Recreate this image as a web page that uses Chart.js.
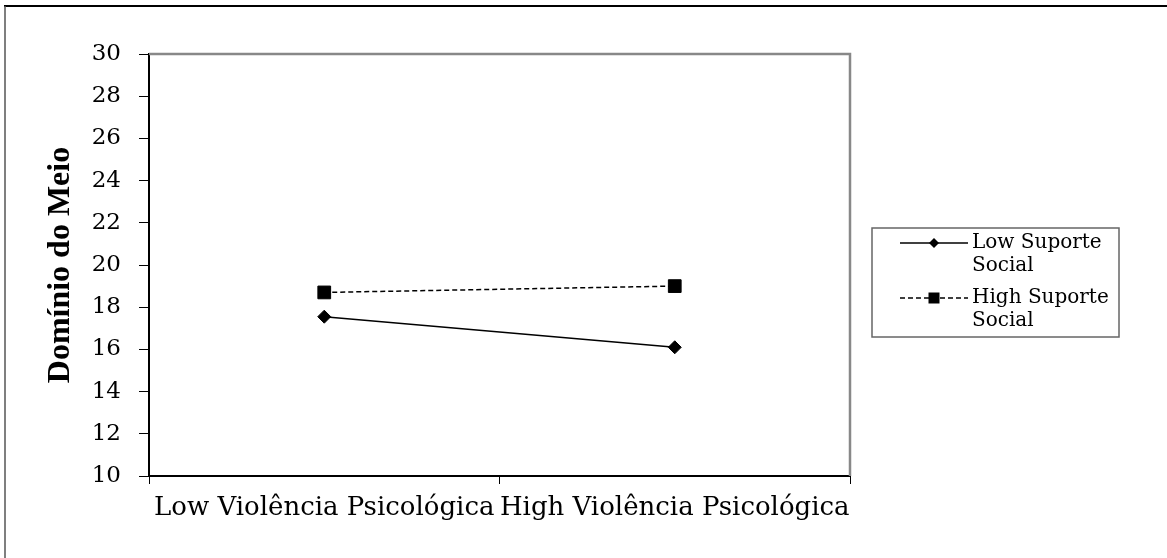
<!DOCTYPE html>
<html>
<head>
<meta charset="utf-8">
<script src="https://cdn.jsdelivr.net/npm/chart.js@4"></script>
<style>
  html, body { margin: 0; padding: 0; background: #fff; }
  canvas { display: block; }
</style>
</head>
<body>
<canvas id="chart" width="1167" height="558"></canvas>
<script>
// values
const categories = ['Low Violência Psicológica', 'High Violência Psicológica'];
const seriesNames = ['Low Suporte Social', 'High Suporte Social'];
const lowSupport = [17.55, 16.1];
const highSupport = [18.7, 19.0];
const yTicks = [10, 12, 14, 16, 18, 20, 22, 24, 26, 28, 30];

const serif = 'DejaVu Serif';

// outer frame of the figure (only left and top edges show)
const framePlugin = {
    id: 'frame',
    beforeDraw(chart) {
        const ctx = chart.ctx;
        ctx.save();
        ctx.lineWidth = 2;
        ctx.strokeStyle = '#000';
        ctx.beginPath();
        ctx.moveTo(4, 6);
        ctx.lineTo(chart.width, 6);
        ctx.stroke();
        ctx.strokeStyle = '#555';
        ctx.lineWidth = 1.5;
        ctx.beginPath();
        ctx.moveTo(5, 6);
        ctx.lineTo(5, chart.height);
        ctx.stroke();
        ctx.restore();
    }
};

// gray top + right edge of the plot area
const plotBorderPlugin = {
    id: 'plotBorder',
    beforeDatasetsDraw(chart) {
        const {ctx, chartArea: a} = chart;
        ctx.save();
        ctx.strokeStyle = '#888';
        ctx.lineWidth = 2.5;
        ctx.beginPath();
        ctx.moveTo(a.left, a.top);
        ctx.lineTo(a.right, a.top);
        ctx.lineTo(a.right, a.bottom);
        ctx.stroke();
        ctx.restore();
    }
};

function drawMarker(ctx, style, x, y, r) {
    ctx.beginPath();
    if (style === 'rectRot') {
        ctx.moveTo(x - r, y);
        ctx.lineTo(x, y - r);
        ctx.lineTo(x + r, y);
        ctx.lineTo(x, y + r);
        ctx.closePath();
    } else {
        ctx.rect(x - r, y - r, 2 * r, 2 * r);
    }
    ctx.fill();
}

function wrapText(ctx, text, maxWidth) {
    const words = text.split(' ');
    const lines = [];
    let line = '';
    words.forEach(w => {
        const test = line ? line + ' ' + w : w;
        if (line && ctx.measureText(test).width > maxWidth) {
            lines.push(line);
            line = w;
        } else {
            line = test;
        }
    });
    if (line) lines.push(line);
    return lines;
}

// boxed legend on the right, labels wrap like the original
const boxLegendPlugin = {
    id: 'boxLegend',
    afterDraw(chart) {
        const ctx = chart.ctx;
        const box = {x: 872, y: 228, w: 247, h: 109};
        ctx.save();
        ctx.strokeStyle = '#666';
        ctx.lineWidth = 1.5;
        ctx.strokeRect(box.x, box.y, box.w, box.h);

        ctx.font = '20px "' + serif + '"';
        ctx.fillStyle = '#000';
        ctx.textBaseline = 'middle';
        let y = 243;
        chart.data.datasets.forEach(ds => {
            ctx.strokeStyle = '#000';
            ctx.lineWidth = 1.5;
            ctx.setLineDash(ds.borderDash || []);
            ctx.beginPath();
            ctx.moveTo(900, y);
            ctx.lineTo(968, y);
            ctx.stroke();
            ctx.setLineDash([]);
            drawMarker(ctx, ds.pointStyle, 934, y, ds.pointStyle === 'rect' ? 5.5 : 5);

            const lines = wrapText(ctx, ds.label, box.x + box.w - 974);
            lines.forEach((t, i) => ctx.fillText(t, 972, y + i * 23));
            y += lines.length * 23 + 9;
        });
        ctx.restore();
    }
};

new Chart(document.getElementById('chart'), {
    type: 'line',
    data: {
        labels: categories,
        datasets: [{
            label: seriesNames[0],
            data: lowSupport,
            borderColor: '#000',
            backgroundColor: '#000',
            pointBackgroundColor: '#000',
            borderWidth: 1.5,
            pointStyle: 'rectRot',
            pointRadius: 6.5,
            pointBorderWidth: 1
        }, {
            label: seriesNames[1],
            data: highSupport,
            borderColor: '#000',
            backgroundColor: '#000',
            pointBackgroundColor: '#000',
            borderWidth: 1.5,
            borderDash: [5, 3],
            pointStyle: 'rect',
            pointRadius: 9,
            pointBorderWidth: 1
        }]
    },
    options: {
        responsive: false,
        animation: false,
        layout: { padding: { left: 0, top: 54, right: 317, bottom: 0 } },
        plugins: {
            legend: { display: false },
            tooltip: { enabled: false }
        },
        scales: {
            x: {
                offset: true,
                ticks: {
                    color: '#000',
                    font: { family: serif, size: 26 },
                    padding: 9,
                    maxRotation: 0,
                    autoSkip: false
                },
                grid: { offset: true, drawOnChartArea: false, tickLength: 8, color: '#000' },
                border: { color: '#000', width: 2 },
                afterFit: s => { s.height = 82; }
            },
            y: {
                min: 10,
                max: 30,
                afterBuildTicks: s => { s.ticks = yTicks.map(v => ({ value: v })); },
                ticks: {
                    color: '#000',
                    font: { family: serif, size: 23 },
                    padding: 18
                },
                grid: { drawOnChartArea: false, tickLength: 10, color: '#000' },
                border: { color: '#000', width: 2 },
                title: {
                    display: true,
                    text: 'Domínio do Meio',
                    color: '#000',
                    font: { family: 'Liberation Serif', size: 32, weight: 'bold' },
                    padding: { top: 42, bottom: 0 }
                },
                afterFit: s => { s.width = 149; }
            }
        }
    },
    plugins: [framePlugin, plotBorderPlugin, boxLegendPlugin]
});
</script>
</body>
</html>
